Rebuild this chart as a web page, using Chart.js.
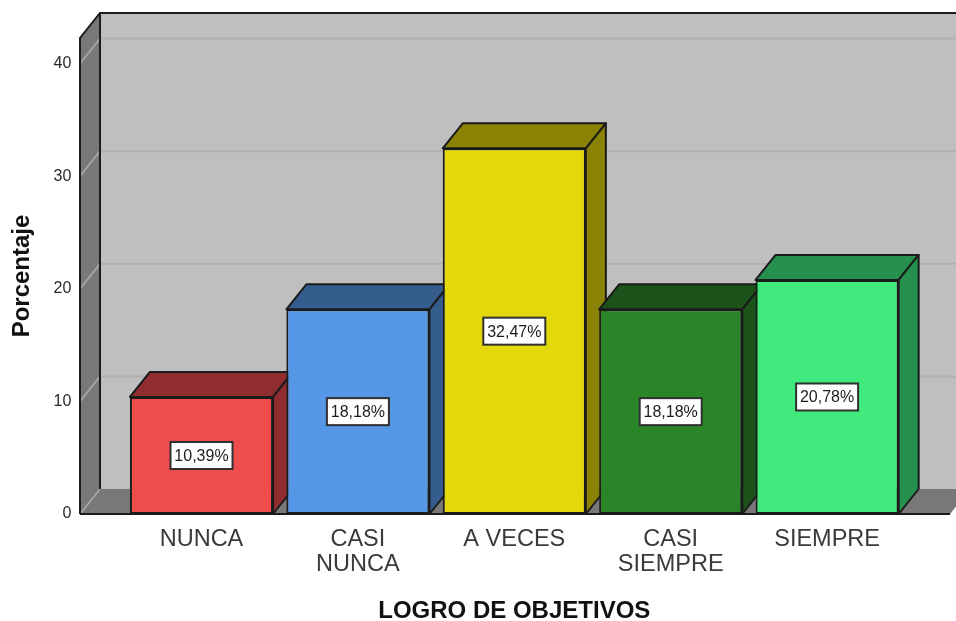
<!DOCTYPE html>
<html><head><meta charset="utf-8">
<style>html,body{margin:0;padding:0;background:#fff;overflow:hidden}canvas{display:block}</style>
<script src="https://cdn.jsdelivr.net/npm/chart.js@4"></script>
</head><body>
<canvas id="c" width="956" height="621"></canvas>
<script>
const categories = [["NUNCA"], ["CASI","NUNCA"], ["A VECES"], ["CASI","SIEMPRE"], ["SIEMPRE"]];
const percentages = [10.39, 18.18, 32.47, 18.18, 20.78];
const frontColors = ["#ef4c4e", "#5596e6", "#e3d80c", "#2a8529", "#40ea7d"];
const depthColors = ["#902d2e", "#345c8c", "#8b8306", "#1a521a", "#26904e"];
const yTicks = [0, 10, 20, 30, 40];
const EDGE = "#1b1b1b", DX = 20, DY = 25;

const depth3d = {
  id: "depth3d",
  beforeDatasetsDraw(chart) {
    const {ctx, scales: {y}, chartArea: a} = chart;
    const L = 80, R = 950, B = y.getPixelForValue(0), T = a.top;
    const poly = (pts, fill, stroke, w) => {
      ctx.beginPath();
      pts.forEach((p, i) => i ? ctx.lineTo(p[0], p[1]) : ctx.moveTo(p[0], p[1]));
      ctx.closePath();
      if (fill) { ctx.fillStyle = fill; ctx.fill(); }
      if (stroke) { ctx.strokeStyle = stroke; ctx.lineWidth = w || 2; ctx.lineJoin = "round"; ctx.stroke(); }
    };
    ctx.save();
    poly([[L+DX,T-DY],[chart.width+5,T-DY],[chart.width+5,B-DY],[L+DX,B-DY]], "#bfbfbf");
    poly([[L,B],[R,B],[R+DX,B-DY],[L+DX,B-DY]], "#787878");
    poly([[L,B],[L+DX,B-DY],[L+DX,T-DY],[L,T]], "#787878");
    yTicks.forEach(v => {
      const p = y.getPixelForValue(v);
      ctx.lineWidth = 2;
      if (v > 0) {
        ctx.strokeStyle = "#b0b0b0";
        ctx.beginPath(); ctx.moveTo(L+DX, p-DY); ctx.lineTo(chart.width, p-DY); ctx.stroke();
      }
      ctx.strokeStyle = "#a4a4a4";
      ctx.beginPath(); ctx.moveTo(L, p); ctx.lineTo(L+DX, p-DY); ctx.stroke();
    });
    ctx.strokeStyle = EDGE; ctx.lineWidth = 2;
    ctx.beginPath();
    ctx.moveTo(L, B); ctx.lineTo(L, T); ctx.lineTo(L+DX, T-DY); ctx.lineTo(chart.width+5, T-DY);
    ctx.moveTo(L+DX, T-DY); ctx.lineTo(L+DX, B-DY);
    ctx.moveTo(L, B); ctx.lineTo(R, B);
    ctx.stroke();
    chart.getDatasetMeta(0).data.forEach((bar, i) => {
      const l = bar.x - bar.width/2, r = bar.x + bar.width/2, t = bar.y, b = B;
      poly([[l,t],[l+DX,t-DY],[r+DX,t-DY],[r,t]], depthColors[i], EDGE);
      poly([[r,t],[r+DX,t-DY],[r+DX,b-DY],[r,b]], depthColors[i], EDGE);
    });
    ctx.restore();
  },
  afterDatasetsDraw(chart) {
    const {ctx, scales: {y}} = chart;
    ctx.save();
    ctx.font = "16px 'Liberation Sans'";
    ctx.textAlign = "center"; ctx.textBaseline = "middle";
    chart.getDatasetMeta(0).data.forEach((bar, i) => {
      const my = y.getPixelForValue(percentages[i] / 2);
      const w = 62, h = 27;
      ctx.fillStyle = "#fff"; ctx.fillRect(bar.x - w/2, my - h/2, w, h);
      ctx.strokeStyle = "#303030"; ctx.lineWidth = 2;
      ctx.strokeRect(bar.x - w/2, my - h/2, w, h);
      ctx.fillStyle = "#1c1c1c";
      ctx.fillText(percentages[i].toFixed(2).replace(".", ",") + "%", bar.x, my + 1);
    });
    ctx.restore();
  }
};

new Chart(document.getElementById("c"), {
  type: "bar",
  data: { labels: categories, datasets: [{
    data: percentages, backgroundColor: frontColors,
    borderColor: EDGE, borderWidth: 2, borderSkipped: false,
    barPercentage: 0.915, categoryPercentage: 1
  }]},
  plugins: [depth3d],
  options: {
    responsive: false, animation: false,
    layout: { padding: { top: 38, right: 50.7, left: 0, bottom: 0 } },
    plugins: { legend: {display: false}, tooltip: {enabled: false}, title: {display: false} },
    scales: {
      x: {
        grid: {display: false}, border: {display: false},
        ticks: { color: "#3a3a3a", padding: 5, maxRotation: 0, minRotation: 0, autoSkip: false,
                 font: {family: "'Liberation Sans'", size: 23.5, lineHeight: 1.064} },
        title: { display: true, text: "LOGRO DE OBJETIVOS", color: "#111",
                 font: {family: "'Liberation Sans'", size: 24, weight: "bold", lineHeight: 0.8}, padding: 0 },
        afterFit(s) { s.height = 107; s.paddingLeft = 0; s.paddingRight = 0; }
      },
      y: {
        min: 0, max: 42.27,
        grid: {display: false}, border: {display: false},
        ticks: { stepSize: 10, includeBounds: false, color: "#2a2a2a", padding: 44,
                 font: {family: "'Liberation Sans'", size: 16} },
        title: { display: true, text: "Porcentaje", color: "#111",
                 font: {family: "'Liberation Sans'", size: 24, weight: "bold", lineHeight: 1.2}, padding: {top: 8, bottom: 0} },
        afterFit(s) { s.width = 123.3; s.paddingTop = 0; s.paddingBottom = 0; }
      }
    }
  }
});
</script>
</body></html>
